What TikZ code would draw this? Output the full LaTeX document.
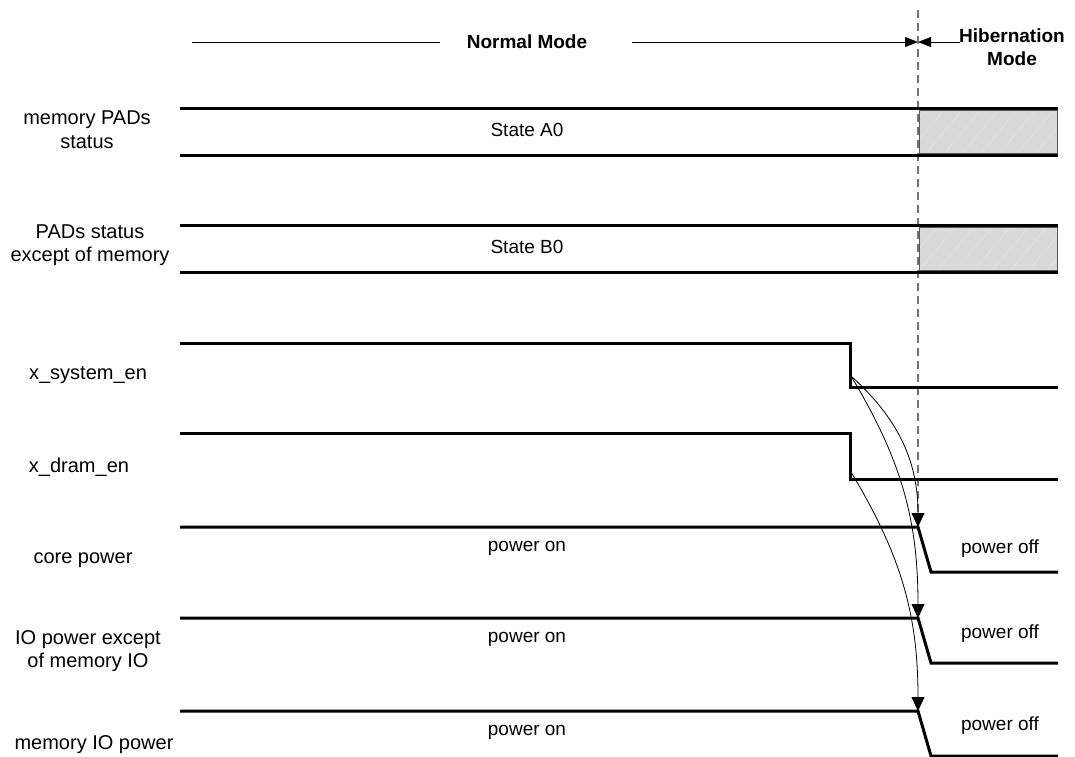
\documentclass[tikz,border=0pt]{standalone}
\usepackage{fontspec}
\setmainfont{Liberation Sans}
\usetikzlibrary{arrows.meta,patterns.meta}

\begin{document}
\begin{tikzpicture}[x=0.5pt,y=-0.5pt,font=\fontsize{9.5}{11.5}\selectfont,
  sig/.style={line width=1.5pt},
  lab/.style={align=center,font=\fontsize{10}{11.8}\selectfont},
  cause/.style={line width=0.4pt,-{Triangle[length=7pt,width=6.5pt]}},
  modetip/.style={line width=0.4pt,-{Triangle[length=6.5pt,width=5pt]}},
  hib/.style={preaction={fill=black!15},draw=black!65,line width=0.5pt,
    pattern={Lines[angle=50,distance=7pt,line width=0.4pt]},pattern color=white!88!black}]
\useasboundingbox (0,0) rectangle (1075,756);

% mode header
\node[font=\fontsize{9.5}{11.5}\selectfont\bfseries] (normal) at (527,42) {Normal Mode};
\node[align=center,font=\fontsize{9.5}{11.5}\selectfont\bfseries] (hiber) at (1012,47) {Hibernation\\Mode};
\coordinate (split) at (918,42);
\draw[line width=0.4pt] (192,42) -- (440,42);
\draw[modetip] (632,42) -- (split);
\draw[modetip] (960,42) -- (split);
\draw[black!55,line width=0.8pt,dash pattern=on 4pt off 2.5pt] (918,10) -- (918,520);

% signal names
\node[lab] (mempads) at (87,130) {memory PADs\\status};
\node[lab] (pads) at (90,245) {PADs status\\except of memory};
\node[lab] (sysen) at (88,375) {x\_system\_en};
\node[lab] (dramen) at (79,467) {x\_dram\_en};
\node[lab] (core) at (83,560) {core power};
\node[lab] (iopow) at (88,651) {IO power except\\of memory IO};
\node[lab] (mempow) at (94,745) {memory IO power};

% pad states
\foreach \y/\st in {108/A0,225/B0}{
  \path[hib] (919,\y+2) rectangle (1057,\y+45);
  \draw[sig] (180,\y) -- (1058,\y);
  \draw[sig] (180,\y+47) -- (1058,\y+47);
  \node at (527,\y+22) {State \st};
}

% enables
\draw[sig] (180,343) -| (850,387) -- (1058,387);
\draw[sig] (180,433) -| (850,479) -- (1058,479);
\coordinate (sysfall) at (851,376);
\coordinate (dramfall) at (851,472);

% supplies
\foreach \y/\nm/\dy in {527/coreoff/22,618/iooff/16,711/memoff/15}{
  \draw[sig] (180,\y) -- (918,\y) -- (931,\y+45) -- (1058,\y+45);
  \coordinate (\nm) at (918,\y);
  \node at (527,\y+21) {power on};
  \node at (1000,\y+\dy) {power off};
}

% causality
\draw[cause] (sysfall) to[out=-42,in=90] (coreoff);
\draw[cause] (sysfall) to[out=-59,in=90] (iooff);
\draw[cause] (dramfall) to[out=-59,in=90] (memoff);
\end{tikzpicture}
\end{document}
